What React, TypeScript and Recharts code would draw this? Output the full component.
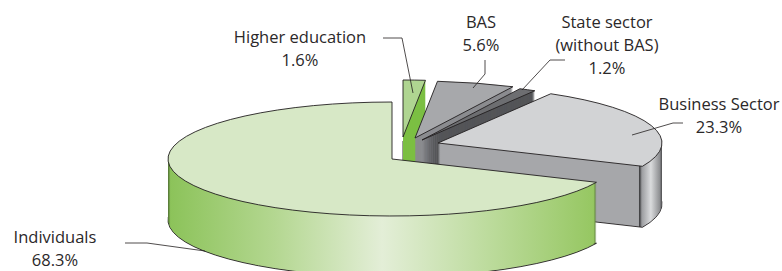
import { PieChart, Pie, Cell } from 'recharts';

// Funding of R&D by source, %
const sectors = ['Higher education', 'BAS', 'State sector (without BAS)', 'Business Sector', 'Individuals'];
const shares = [1.6, 5.6, 1.2, 23.3, 68.3];
const labelLines = [['Higher education'], ['BAS'], ['State sector', '(without BAS)'], ['Business Sector'], ['Individuals']];

const topColors = ['#afd591', '#a7a8ab', '#6d6e71', '#d2d3d5', '#d7e8c6'];
const sideFills = ['#7cbf43', '#8b8c90', '#545558', 'url(#sideBusiness)', 'url(#sideIndividuals)'];

// 3D geometry (screen px): ellipse radii, extrusion depth, exploded centre of each slice
const RX = 224;
const RY = 57;
const DEPTH = 61;
const S = RY / RX;
const centers = [[403, 137], [415, 138], [422, 140], [438, 143], [392, 159]];

// label placement: centre x, first baseline y, leader polyline
const labelPos = [
    { x: 300, y: 43, line: '383,38 402,38 413,93' },
    { x: 481, y: 28, line: '485,60 485,74 473,88' },
    { x: 607, y: 28, line: '565,60 550,60 522,90' },
    { x: 719, y: 110, line: '683,123 673,123 632,135' },
    { x: 55, y: 243, line: '125,243 147,243 205,251' },
];

const data = sectors.map((name, i) => ({ name, value: shares[i] }));
const INK = '#231f20';

function sliceLayer(i: number, k: number) {
    const [cx, cy] = centers[i];
    const isTop = k === 0;
    const stroked = isTop || k === DEPTH;
    return (
        <Pie
            key={`${i}-${k}`}
            data={data}
            dataKey="value"
            cx={cx}
            cy={(cy + k) / S}
            innerRadius={0}
            outerRadius={RX}
            startAngle={90}
            endAngle={-270}
            label={false}
            labelLine={false}
            legendType="none"
            isAnimationActive={false}
        >
            {data.map((d, j) => (
                <Cell
                    key={d.name}
                    fill={j === i ? (isTop ? topColors[i] : sideFills[i]) : 'none'}
                    stroke={j === i && stroked ? INK : 'none'}
                    strokeWidth={0.9}
                />
            ))}
        </Pie>
    );
}

export default function App() {
    const layers: JSX.Element[] = [];
    sectors.forEach((_, i) => {
        for (let k = DEPTH; k >= 0; k--) layers.push(sliceLayer(i, k));
    });

    return (
        <div className="pie3d" style={{ position: 'absolute', left: 0, top: 0, width: 782, height: 271, background: '#fff' }}>
            <style>{`
                .pie3d path.recharts-sector {
                    transform: scaleY(${S});
                    transform-box: view-box;
                    transform-origin: 0 0;
                    vector-effect: non-scaling-stroke;
                }
            `}</style>
            <PieChart width={782} height={271} margin={{ top: 0, right: 0, bottom: 0, left: 0 }}>
                <defs>
                    <linearGradient id="sideIndividuals" x1="0" y1="0" x2="1" y2="0">
                        <stop offset="0" stopColor="#4f6e32" />
                        <stop offset="0.006" stopColor="#8cc35a" />
                        <stop offset="0.25" stopColor="#b4d791" />
                        <stop offset="0.5" stopColor="#e3eed7" />
                        <stop offset="0.75" stopColor="#bcdb9c" />
                        <stop offset="0.993" stopColor="#96c762" />
                        <stop offset="1" stopColor="#4f6e32" />
                    </linearGradient>
                    <linearGradient id="sideBusiness" x1="0" y1="0" x2="1" y2="0">
                        <stop offset="0" stopColor="#a6a7aa" />
                        <stop offset="0.895" stopColor="#a6a7aa" />
                        <stop offset="0.9" stopColor="#3a3a3c" />
                        <stop offset="0.91" stopColor="#9c9da0" />
                        <stop offset="0.95" stopColor="#dadbdd" />
                        <stop offset="0.99" stopColor="#8e8f92" />
                        <stop offset="1" stopColor="#4a4a4c" />
                    </linearGradient>
                </defs>
                {layers}
            </PieChart>
            <svg width={782} height={271} style={{ position: 'absolute', left: 0, top: 0, pointerEvents: 'none' }}>
                {labelPos.map((p, i) => (
                    <g key={sectors[i]}>
                        <polyline points={p.line} fill="none" stroke={INK} strokeWidth={0.8} />
                        <text
                            x={p.x}
                            y={p.y}
                            textAnchor="middle"
                            fontFamily="'Open Sans', 'Liberation Sans', sans-serif"
                            fontSize={16.5}
                            fill="#2b2829"
                        >
                            {[...labelLines[i], `${shares[i].toFixed(1)}%`].map((t, n) => (
                                <tspan key={n} x={p.x} dy={n === 0 ? 0 : 23}>{t}</tspan>
                            ))}
                        </text>
                    </g>
                ))}
            </svg>
        </div>
    );
}
